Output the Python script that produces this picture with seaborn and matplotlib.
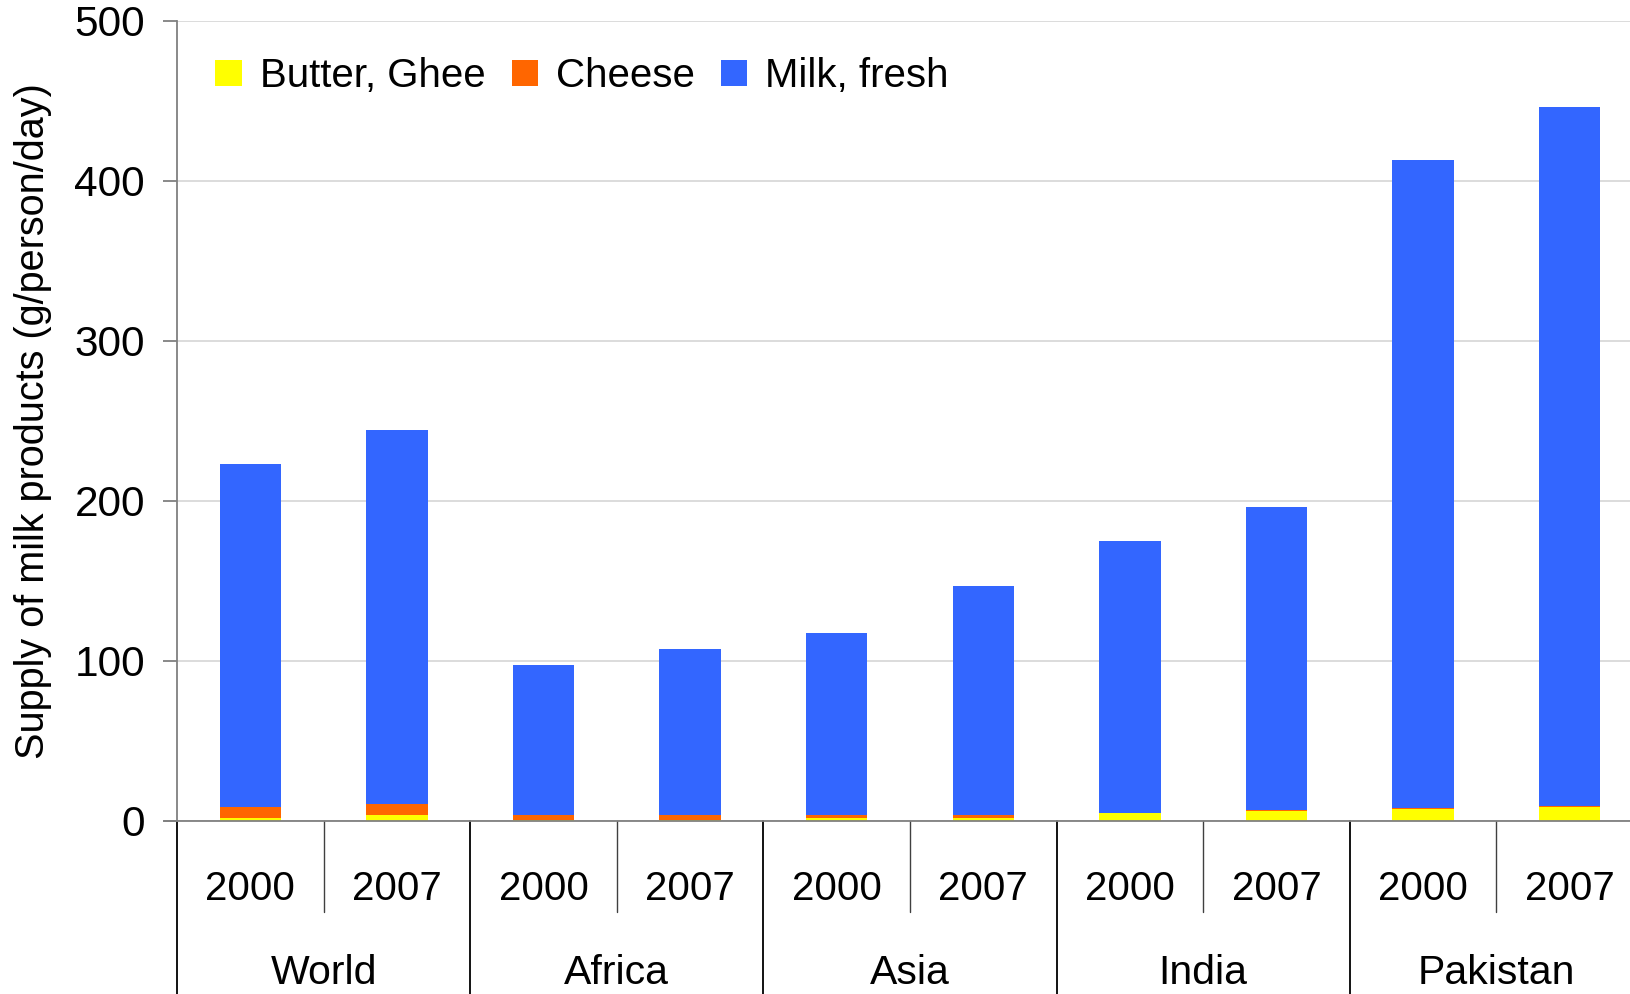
import matplotlib
matplotlib.use("Agg")
import matplotlib.pyplot as plt
import matplotlib.transforms as mtransforms
from matplotlib.patches import Patch
import seaborn as sns
import pandas as pd
import numpy as np

regions = ["World", "Africa", "Asia", "India", "Pakistan"]
years = ["2000", "2007"]
butter = [2.0, 3.5, 0.5, 0.5, 2.0, 2.0, 5.0, 6.5, 7.8, 9.0]
cheese = [7.0, 7.0, 3.0, 3.0, 1.5, 1.5, 0.2, 0.2, 0.1, 0.1]
milk = [214.0, 234.0, 94.0, 104.0, 114.0, 143.5, 169.5, 189.5, 405.0, 437.0]
series_names = ["Butter, Ghee", "Cheese", "Milk, fresh"]
colors = ["#FFFF00", "#FF6600", "#3366FF"]

sns.set_theme(style="white")
plt.rcParams["font.family"] = ["Liberation Sans", "DejaVu Sans"]
plt.rcParams["text.color"] = "black"
plt.rcParams["axes.labelcolor"] = "black"
plt.rcParams["ytick.labelcolor"] = "black"

slots = list(range(len(regions) * len(years)))
df = pd.DataFrame({"slot": slots, "butter": butter, "cheese": cheese, "milk": milk})
df["c1"] = df["butter"]
df["c2"] = df["butter"] + df["cheese"]
df["c3"] = df["c2"] + df["milk"]

fig = plt.figure(figsize=(16.3, 9.94), dpi=100)
ax = fig.add_axes([177 / 1630, 1 - 821 / 994, 1466 / 1630, 800 / 994])

for col, c in zip(["c3", "c2", "c1"], colors[::-1]):
    sns.barplot(data=df, x="slot", y=col, color=c, width=0.42, errorbar=None,
                ax=ax, saturation=1, linewidth=0)

ax.set_xlim(-0.5, len(slots) - 0.5)
ax.set_ylim(0, 500)
ax.set_yticks([0, 100, 200, 300, 400, 500])
ax.yaxis.grid(True, color="#d9d9d9", lw=1.3)
ax.set_axisbelow(True)
for s in ["top", "right", "bottom"]:
    ax.spines[s].set_visible(False)
ax.spines["left"].set_color("#808080")
ax.spines["left"].set_linewidth(1.3)
ax.axhline(0, color="#808080", lw=1.3, xmin=-0.009, clip_on=False, zorder=5)
ax.tick_params(axis="y", which="major", direction="out", length=10, width=1.3,
               color="#808080", labelsize=30.5, labelcolor="black", pad=13, left=True)
ax.set_xticks([])
ax.set_xlabel("")
ax.set_ylabel("Supply of milk products (g/person/day)", fontsize=28.5, color="black",
              va="center")
ax.yaxis.set_label_coords(-0.0985, 0.5)

trans = mtransforms.blended_transform_factory(ax.transData, ax.transAxes)
for i in slots:
    ax.text(i, -0.085, years[i % 2], transform=trans, ha="center", va="center",
            fontsize=29, color="black")
for g, r in enumerate(regions):
    ax.text(2 * g + 0.5, -0.19, r, transform=trans, ha="center", va="center",
            fontsize=29.5, color="black")
# separators
for k in range(len(slots) + 1):
    xpos = k - 0.5
    if k % 2 == 0:
        ax.plot([xpos, xpos], [0, -0.22], transform=trans, color="black", lw=1.3,
                clip_on=False)
    else:
        ax.plot([xpos, xpos], [0, -0.114], transform=trans, color="#404040", lw=1.0,
                clip_on=False)

handles = [Patch(facecolor=c, edgecolor="none") for c in colors]
ax.legend(handles, series_names, loc="upper left", ncol=3, frameon=False,
          fontsize=29, handlelength=0.65, handleheight=0.65, handletextpad=0.45,
          columnspacing=0.65, bbox_to_anchor=(0.007, 0.99), borderaxespad=0.3)

fig.savefig("out.png", dpi=100)
